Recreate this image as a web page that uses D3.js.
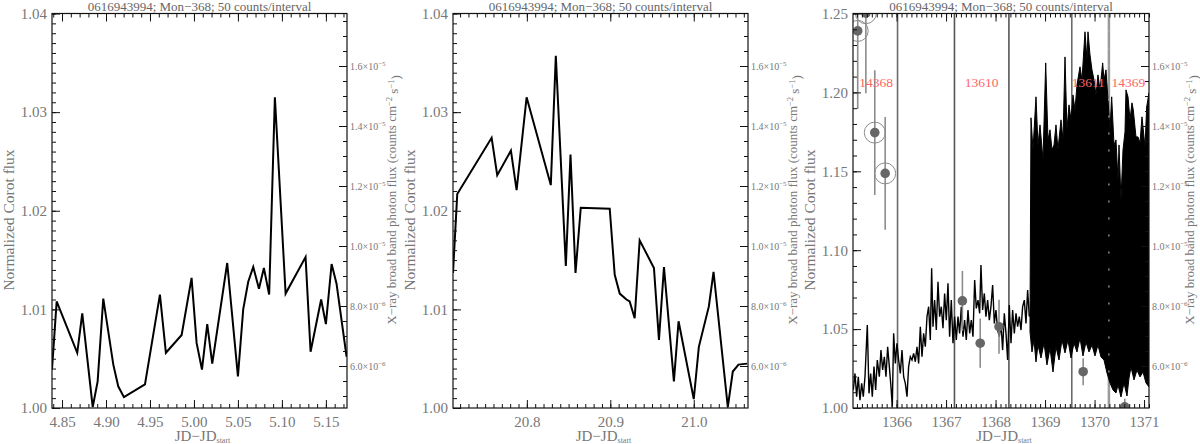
<!DOCTYPE html>
<html>
<head>
<meta charset="utf-8">
<script src="https://d3js.org/d3.v7.min.js"></script>
<style>
body { margin: 0; background: #fff; }
svg text { font-family: "Liberation Serif", "DejaVu Serif", serif; }
</style>
</head>
<body>
<svg id="chart" width="1200" height="444"></svg>
<script>
var title = "0616943994; Mon\u2212368; 50 counts/interval";

// panel 1: binned corot flux around JD 4.84-5.17
var p1Time = [4.8386, 4.8439, 4.8673, 4.8730, 4.8849, 4.8905, 4.8969, 4.9083, 4.9139, 4.9204, 4.9443, 4.9613, 4.9681, 4.9860, 4.9973, 5.0030, 5.0091, 5.0151, 5.0208, 5.0378, 5.0500, 5.0560, 5.0617, 5.0674, 5.0739, 5.0795, 5.0855, 5.0920, 5.1042, 5.1269, 5.1326, 5.1446, 5.1500, 5.1565, 5.1621, 5.1735];
var p1Flux = [1.0039, 1.0108, 1.0056, 1.0096, 1.0001, 1.0027, 1.0111, 1.0044, 1.0022, 1.0011, 1.0024, 1.0115, 1.0056, 1.0074, 1.0132, 1.0066, 1.0039, 1.0085, 1.0045, 1.0147, 1.0032, 1.0100, 1.0128, 1.0143, 1.0121, 1.0142, 1.0115, 1.0315, 1.0116, 1.0153, 1.0057, 1.0110, 1.0085, 1.0146, 1.0126, 1.0052];

// panel 2
var p2Time = [20.7115, 20.7166, 20.7578, 20.7645, 20.7809, 20.7877, 20.7997, 20.8287, 20.8347, 20.8467, 20.8523, 20.8583, 20.8646, 20.8993, 20.9053, 20.9113, 20.9193, 20.9232, 20.9292, 20.9352, 20.9523, 20.9583, 20.9643, 20.9762, 20.9818, 21.0000, 21.0061, 21.0181, 21.0237, 21.0408, 21.0468, 21.0536, 21.0640];
var p2Flux = [1.0137, 1.0217, 1.0274, 1.0236, 1.0261, 1.0221, 1.0315, 1.0226, 1.0357, 1.0144, 1.0257, 1.0137, 1.0203, 1.0202, 1.0135, 1.0116, 1.0110, 1.0108, 1.0091, 1.0170, 1.0142, 1.0069, 1.0143, 1.0027, 1.0088, 1.0009, 1.0062, 1.0103, 1.0138, 1.0001, 1.0037, 1.0044, 1.0045];

// panel 3: quiet part of the light curve
var p3Time = [1365.126, 1365.160, 1365.194, 1365.227, 1365.261, 1365.295, 1365.328, 1365.362, 1365.409, 1365.443, 1365.477, 1365.510, 1365.544, 1365.578, 1365.611, 1365.652, 1365.685, 1365.719, 1365.753, 1365.786, 1365.820, 1365.854, 1365.887, 1365.914, 1365.941, 1365.975, 1366.008, 1366.042, 1366.076, 1366.110, 1366.143, 1366.177, 1366.211, 1366.244, 1366.278, 1366.312, 1366.345, 1366.379, 1366.413, 1366.446, 1366.480, 1366.514, 1366.547, 1366.581, 1366.615, 1366.648, 1366.682, 1366.709, 1366.736, 1366.769, 1366.803, 1366.837, 1366.870, 1366.904, 1366.938, 1366.971, 1367.005, 1367.039, 1367.072, 1367.106, 1367.140, 1367.173, 1367.207, 1367.241, 1367.274, 1367.308, 1367.342, 1367.375, 1367.409, 1367.443, 1367.477, 1367.510, 1367.544, 1367.578, 1367.611, 1367.645, 1367.679, 1367.705, 1367.739, 1367.773, 1367.806, 1367.840, 1367.874, 1367.907, 1367.941, 1367.975, 1368.008, 1368.042, 1368.076, 1368.110, 1368.143, 1368.177, 1368.211, 1368.244, 1368.278, 1368.312, 1368.345, 1368.379, 1368.413, 1368.446, 1368.480, 1368.514, 1368.547, 1368.581, 1368.615, 1368.648, 1368.682];
var p3Flux = [1.0114, 1.0219, 1.0072, 1.0198, 1.0050, 1.0156, 1.0072, 1.0198, 1.0526, 1.0093, 1.0219, 1.0072, 1.0262, 1.0114, 1.0304, 1.0198, 1.0367, 1.0241, 1.0325, 1.0198, 1.0388, 1.0262, 1.0135, 1.0008, 1.0473, 1.0283, 1.0410, 1.0304, 1.0219, 1.0367, 1.0198, 1.0156, 1.0072, 1.0262, 1.0325, 1.0304, 1.0346, 1.0293, 1.0388, 1.0283, 1.0515, 1.0325, 1.0473, 1.0388, 1.0579, 1.0642, 1.0431, 1.0885, 1.0515, 1.0684, 1.0494, 1.0800, 1.0579, 1.0642, 1.0505, 1.0726, 1.0557, 1.0790, 1.0452, 1.0684, 1.0410, 1.0579, 1.0431, 1.0579, 1.0473, 1.0642, 1.0452, 1.0557, 1.0431, 1.0621, 1.0473, 1.0557, 1.0452, 1.0811, 1.0631, 1.0684, 1.0600, 1.0906, 1.0621, 1.0726, 1.0579, 1.0684, 1.0557, 1.0642, 1.0779, 1.0536, 1.0621, 1.0494, 1.0452, 1.0536, 1.0367, 1.0600, 1.0473, 1.0304, 1.0652, 1.0410, 1.0621, 1.0473, 1.0600, 1.0515, 1.0579, 1.0494, 1.0642, 1.0684, 1.0536, 1.0748, 1.0579];

// panel 3: noisy part, upper and lower edge of the scatter
var p3HiTime = [1368.696, 1368.716, 1368.756, 1368.817, 1368.857, 1368.898, 1368.958, 1369.013, 1369.059, 1369.100, 1369.140, 1369.181, 1369.221, 1369.261, 1369.322, 1369.362, 1369.403, 1369.443, 1369.484, 1369.524, 1369.564, 1369.605, 1369.645, 1369.706, 1369.746, 1369.807, 1369.847, 1369.867, 1369.908, 1369.948, 1369.989, 1370.029, 1370.069, 1370.110, 1370.164, 1370.191, 1370.231, 1370.272, 1370.312, 1370.346, 1370.393, 1370.433, 1370.474, 1370.494, 1370.534, 1370.575, 1370.615, 1370.635, 1370.676, 1370.716, 1370.756, 1370.783, 1370.837, 1370.878, 1370.918, 1370.958, 1371.019, 1371.053, 1371.100];
var p3Hi = [1.0579, 1.1839, 1.1636, 1.1972, 1.1667, 1.1794, 1.1572, 1.2187, 1.1699, 1.1763, 1.1636, 1.1667, 1.1794, 1.1636, 1.1826, 1.1699, 1.2225, 1.1763, 1.1921, 1.1826, 1.1984, 1.1889, 1.2048, 1.2162, 1.2080, 1.2384, 1.2206, 1.2384, 1.2238, 1.2143, 1.2080, 1.1984, 1.2111, 1.2016, 1.2187, 1.2080, 1.2143, 1.1953, 1.1763, 1.1972, 1.1667, 1.1699, 1.1446, 1.1667, 1.1319, 1.1636, 1.1750, 1.2016, 1.1972, 1.1826, 1.1934, 1.1889, 1.1718, 1.1718, 1.1680, 1.1845, 1.1655, 1.1908, 1.1997];
var p3LoTime = [1368.696, 1368.736, 1368.777, 1368.817, 1368.857, 1368.918, 1368.979, 1369.039, 1369.100, 1369.160, 1369.221, 1369.282, 1369.342, 1369.403, 1369.463, 1369.524, 1369.585, 1369.645, 1369.706, 1369.766, 1369.827, 1369.888, 1369.948, 1370.009, 1370.069, 1370.130, 1370.191, 1370.251, 1370.312, 1370.373, 1370.433, 1370.474, 1370.534, 1370.595, 1370.655, 1370.696, 1370.736, 1370.797, 1370.857, 1370.918, 1370.979, 1371.039, 1371.100];
var p3Lo = [1.0482, 1.0355, 1.0431, 1.0292, 1.0399, 1.0317, 1.0412, 1.0273, 1.0380, 1.0228, 1.0387, 1.0304, 1.0431, 1.0349, 1.0431, 1.0317, 1.0412, 1.0355, 1.0444, 1.0330, 1.0418, 1.0355, 1.0399, 1.0330, 1.0399, 1.0323, 1.0304, 1.0222, 1.0159, 1.0114, 1.0095, 1.0146, 1.0070, 1.0159, 1.0076, 1.0190, 1.0260, 1.0178, 1.0241, 1.0197, 1.0228, 1.0159, 1.0133];

// x-ray photon flux (right axis)
var xrayTime = [1365.215, 1365.38, 1365.56, 1365.77, 1367.33, 1367.69, 1368.07, 1369.77, 1370.61];
var xrayFlux = [1.717e-5, 1.776e-5, 1.378e-5, 1.242e-5, 8.17e-6, 6.76e-6, 7.31e-6, 5.81e-6, 4.64e-6];
var xrayErr = [2.6e-6, 2.67e-6, 2.08e-6, 1.88e-6, 1.0e-6, 0.82e-6, 0.9e-6, 0.45e-6, 0.27e-6];
var xrayFlagged = [true, true, true, true, false, false, false, false, false];

// observation boundaries and ids
var obsLines = [1366.02, 1367.17, 1368.27, 1369.54, 1370.29];
var obsIds = ["14368", "13610", "13611", "14369"];
var obsIdTime = [1365.585, 1367.72, 1369.873, 1370.682];
var obsIdLevel = 1.2067;

var xrayTicks = [6e-6, 8e-6, 1e-5, 1.2e-5, 1.4e-5, 1.6e-5];
var xrayTickMant = ["6.0", "8.0", "1.0", "1.2", "1.4", "1.6"];
var xrayTickExp = ["\u22126", "\u22126", "\u22125", "\u22125", "\u22125", "\u22125"];

var plotTop = 13.5, plotBottom = 408;
var labelGrey = "#777";

var panels = [
  { left: 52, right: 347, xDom: [4.8386, 5.174], yDom: [1.0, 1.04],
    xMajor: d3.range(485, 516, 5).map(d => d / 100), xMinor: d3.range(484, 518).map(d => d / 100), xFmt: d3.format(".2f"),
    yMajor: d3.range(100, 105).map(d => d / 100), yMinor: d3.range(1000, 1041).map(d => d / 1000) },
  { left: 453, right: 748, xDom: [20.7115, 21.065], yDom: [1.0, 1.04],
    xMajor: [20.8, 20.9, 21.0], xMinor: d3.range(2072, 2107).map(d => d / 100), xFmt: d3.format(".1f"),
    yMajor: d3.range(100, 105).map(d => d / 100), yMinor: d3.range(1000, 1041).map(d => d / 1000) },
  { left: 853, right: 1149, xDom: [1365.12, 1371.1], yDom: [1.0, 1.25],
    xMajor: d3.range(1366, 1372), xMinor: d3.range(13652, 13712).map(d => d / 10), xFmt: d3.format("d"),
    yMajor: d3.range(100, 126, 5).map(d => d / 100), yMinor: d3.range(100, 126).map(d => d / 100) }
];

var svg = d3.select("#chart");

function styleAxis(g, size) {
  g.select(".domain").remove();
  g.selectAll("line").attr("stroke", "#111").attr("stroke-width", 1);
  g.selectAll("text").attr("fill", labelGrey).attr("font-size", size).attr("font-family", "Liberation Serif");
}

panels.forEach(function(p, pi) {
  var x = d3.scaleLinear().domain(p.xDom).range([p.left, p.right]);
  var y = d3.scaleLinear().domain(p.yDom).range([plotBottom, plotTop]);
  var yx = d3.scaleLinear().domain([4.6e-6, 1.775e-5]).range([plotBottom, plotTop]);
  var g = svg.append("g");

  g.append("clipPath").attr("id", "clip" + pi)
    .append("rect").attr("x", p.left).attr("y", plotTop).attr("width", p.right - p.left).attr("height", plotBottom - plotTop);
  var plot = g.append("g").attr("clip-path", "url(#clip" + pi + ")");

  var line = d3.line().x(d => x(d[0])).y(d => y(d[1]));

  if (pi < 2) {
    var tt = pi == 0 ? p1Time : p2Time, ff = pi == 0 ? p1Flux : p2Flux;
    plot.append("path").datum(tt.map((t, i) => [t, ff[i]]))
      .attr("d", line).attr("fill", "none").attr("stroke", "#000").attr("stroke-width", 2);
  } else {
    // observation boundaries below the data
    obsLines.forEach(function(t, i) {
      plot.append("line").attr("x1", x(t)).attr("x2", x(t)).attr("y1", plotTop).attr("y2", plotBottom)
        .attr("stroke", i == 4 ? "#9a9a9a" : (i == 0 || i == 3 ? "#6a6a6a" : "#555"))
        .attr("stroke-width", i == 4 ? 2.5 : 1.6);
    });
    plot.append("path").datum(p3Time.map((t, i) => [t, p3Flux[i]]))
      .attr("d", line).attr("fill", "none").attr("stroke", "#000").attr("stroke-width", 1.4);
    var poly = p3HiTime.map((t, i) => [t, p3Hi[i]])
      .concat(p3LoTime.map((t, i) => [t, p3Lo[i]]).reverse());
    plot.append("path").attr("d", line(poly) + "Z")
      .attr("fill", "#000").attr("stroke", "#000").attr("stroke-width", 1);
    // dotted trace of the last boundary through the dense data
    plot.append("line").attr("x1", x(obsLines[4])).attr("x2", x(obsLines[4]))
      .attr("y1", plotTop).attr("y2", plotBottom).attr("stroke", "#aaa").attr("stroke-width", 1.2)
      .attr("stroke-dasharray", "2,15");

    // x-ray points
    xrayTime.forEach(function(t, i) {
      plot.append("line").attr("x1", x(t)).attr("x2", x(t))
        .attr("y1", yx(xrayFlux[i] - xrayErr[i])).attr("y2", yx(xrayFlux[i] + xrayErr[i]))
        .attr("stroke", "#8c8c8c").attr("stroke-width", 1.6);
    });
    xrayTime.forEach(function(t, i) {
      if (xrayFlagged[i]) {
        plot.append("circle").attr("cx", x(t)).attr("cy", yx(xrayFlux[i])).attr("r", 10.5)
          .attr("fill", "none").attr("stroke", "#8c8c8c").attr("stroke-width", 1);
      }
      plot.append("circle").attr("cx", x(t)).attr("cy", yx(xrayFlux[i])).attr("r", 4.8)
        .attr("fill", "#666");
    });

    obsIds.forEach(function(s, i) {
      g.append("text").attr("x", x(obsIdTime[i])).attr("y", y(obsIdLevel)).attr("dy", "0.35em")
        .attr("text-anchor", "middle").attr("font-size", 13.5).attr("fill", "#ff6464").text(s);
    });
  }

  // frame
  g.append("rect").attr("x", p.left).attr("y", plotTop).attr("width", p.right - p.left).attr("height", plotBottom - plotTop)
    .attr("fill", "none").attr("stroke", "#111").attr("stroke-width", 1.2);

  var xMinor = p.xMinor.filter(v => v >= p.xDom[0] && v <= p.xDom[1]);
  // bottom axis
  var bMin = g.append("g").attr("transform", "translate(0," + plotBottom + ")")
    .call(d3.axisBottom(x).tickValues(xMinor).tickSize(-4).tickFormat(""));
  styleAxis(bMin, 15);
  var bMaj = g.append("g").attr("transform", "translate(0," + plotBottom + ")")
    .call(d3.axisBottom(x).tickValues(p.xMajor).tickSize(-8).tickPadding(8.5).tickFormat(p.xFmt));
  styleAxis(bMaj, 15);
  // top axis (mirrored, no labels)
  var tMin = g.append("g").attr("transform", "translate(0," + plotTop + ")")
    .call(d3.axisTop(x).tickValues(xMinor).tickSize(-4).tickFormat(""));
  styleAxis(tMin, 15);
  var tMaj = g.append("g").attr("transform", "translate(0," + plotTop + ")")
    .call(d3.axisTop(x).tickValues(p.xMajor).tickSize(-8).tickFormat(""));
  styleAxis(tMaj, 15);

  // left axis
  var lMin = g.append("g").attr("transform", "translate(" + p.left + ",0)")
    .call(d3.axisLeft(y).tickValues(p.yMinor).tickSize(-4).tickFormat(""));
  styleAxis(lMin, 15);
  var lMaj = g.append("g").attr("transform", "translate(" + p.left + ",0)")
    .call(d3.axisLeft(y).tickValues(p.yMajor).tickSize(-8).tickPadding(5).tickFormat(d3.format(".2f")));
  styleAxis(lMaj, 15);

  // right axis: x-ray flux
  var rMin = g.append("g").attr("transform", "translate(" + p.right + ",0)")
    .call(d3.axisRight(yx).tickValues(d3.range(10, 36).map(d => d * 5e-7)).tickSize(-4).tickFormat(""));
  styleAxis(rMin, 10);
  var rMaj = g.append("g").attr("transform", "translate(" + p.right + ",0)")
    .call(d3.axisRight(yx).tickValues(xrayTicks).tickSize(-8).tickFormat(""));
  styleAxis(rMaj, 10);
  rMaj.selectAll(".tick text").remove();
  rMaj.selectAll(".tick").each(function(d, i) {
    var t = d3.select(this).append("text").attr("x", 3).attr("dy", "0.32em")
      .attr("fill", labelGrey).attr("font-size", 10);
    t.append("tspan").text(xrayTickMant[i] + "\u00d710");
    t.append("tspan").attr("dy", "-0.5em").attr("font-size", 7).text(xrayTickExp[i]);
  });

  // title
  g.append("text").attr("x", (p.left + p.right) / 2).attr("y", 11).attr("text-anchor", "middle")
    .attr("font-size", 13).attr("fill", "#666").text(title);

  // x label
  var xl = g.append("text").attr("x", (p.left + p.right) / 2 + 3).attr("y", 441).attr("text-anchor", "middle")
    .attr("font-size", 15).attr("fill", labelGrey);
  xl.append("tspan").text("JD\u2212JD");
  xl.append("tspan").attr("font-size", 8).attr("dy", "0.3em").text("start");

  // y labels
  g.append("text").attr("transform", "translate(" + (p.left - 43) + ",220) rotate(-90)")
    .attr("text-anchor", "middle").attr("dy", "0.35em").attr("font-size", 15.5).attr("fill", labelGrey)
    .text("Normalized Corot flux");
  var rl = g.append("text").attr("transform", "translate(" + Math.min(p.right + 44, 1189) + ",200) rotate(-90)")
    .attr("text-anchor", "middle").attr("dy", "0.35em").attr("font-size", 13).attr("fill", labelGrey);
  rl.append("tspan").text("X\u2212ray broad band photon flux (counts cm");
  rl.append("tspan").attr("dy", "-0.45em").attr("font-size", 8.5).text("\u22122");
  rl.append("tspan").attr("dy", "0.45em").text(" s");
  rl.append("tspan").attr("dy", "-0.45em").attr("font-size", 8.5).text("\u22121");
  rl.append("tspan").attr("dy", "0.45em").text(")");
});
</script>
</body>
</html>
